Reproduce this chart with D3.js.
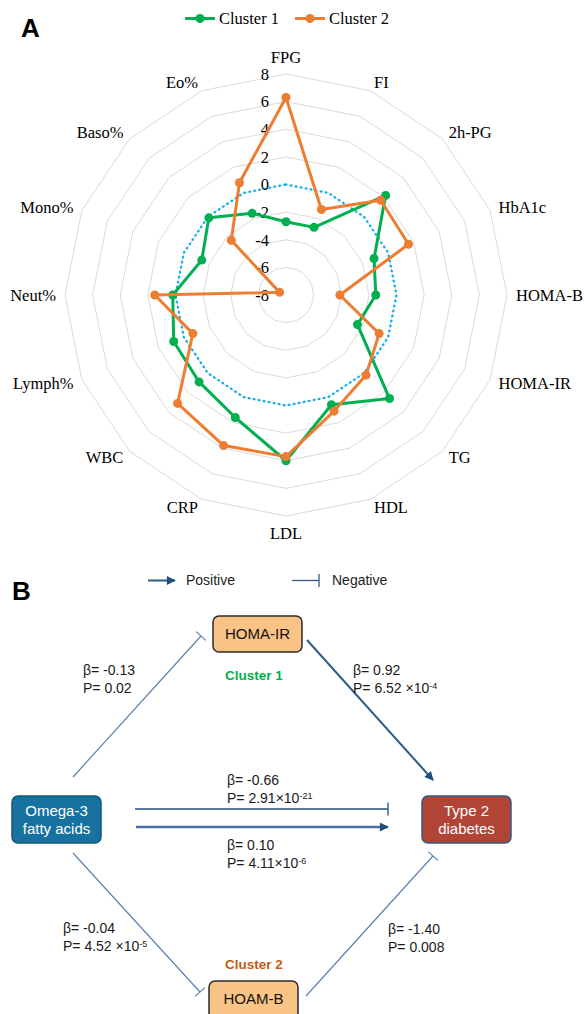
<!DOCTYPE html>
<html>
<head>
<meta charset="utf-8">
<script src="https://cdn.jsdelivr.net/npm/d3@7"></script>
<style>
  body { margin: 0; background: #fff; }
  svg { display: block; }
</style>
</head>
<body>
<div id="chart-area"></div>
<script>
// panel A data
var categories = ["FPG", "FI", "2h-PG", "HbA1c", "HOMA-B", "HOMA-IR", "TG", "HDL",
                  "LDL", "CRP", "WBC", "Lymph%", "Neut%", "Mono%", "Baso%", "Eo%"];
var cluster1 = [-2.7, -2.7, 2.2, -1.1, -1.5, -2.4, 2.6, 0.6, 4.0, 1.6, 0.9, 0.8, 0.2, -1.4, -0.1, -1.6];
var cluster2 = [6.3, -1.3, 1.7, 1.6, -4.1, -0.7, 0.2, 1.1, 3.7, 3.8, 3.1, -0.7, 1.5, -7.5, -2.4, 0.8];
var baseline = [0, 0, 0, 0, 0, 0, 0, 0, 0, 0, 0, 0, 0, 0, 0, 0];
var ticks = [-8, -6, -4, -2, 0, 2, 4, 6, 8];
var seriesNames = ["Cluster 1", "Cluster 2"];

// panel B data
var legendB = ["Positive", "Negative"];
var nodes = ["HOMA-IR", "Omega-3|fatty acids", "Type 2|diabetes", "HOAM-B"];
var clusterLabels = ["Cluster 1", "Cluster 2"];
var betas = ["-0.13", "0.92", "-0.66", "0.10", "-0.04", "-1.40"];
var pvals = [["0.02", ""], ["6.52 \u00d710", "-4"], ["2.91\u00d710", "-21"], ["4.11\u00d710", "-6"],
             ["4.52 \u00d710", "-5"], ["0.008", ""]];

var svg = d3.select("#chart-area").append("svg")
            .attr("width", 584)
            .attr("height", 1014);

var serif = "'Liberation Serif', 'Times New Roman', serif";
var sans = "'Liberation Sans', Arial, sans-serif";

// ---------- Panel A : radar ----------
var cx = 286, cy = 295;
var r = d3.scaleLinear().domain([-8, 8]).range([0, 221]);
var angle = d3.scaleLinear().domain([0, categories.length]).range([0, 2 * Math.PI]);

svg.append("text")
   .attr("x", 21).attr("y", 37)
   .attr("font-family", sans).attr("font-weight", "bold").attr("font-size", 26)
   .text("A");

var radar = svg.append("g").attr("transform", "translate(" + cx + "," + cy + ")");

var ringLine = d3.lineRadial()
                 .angle((d, i) => angle(i))
                 .radius(d => r(d))
                 .curve(d3.curveLinearClosed);

ticks.slice(1).forEach((t) => {
  radar.append("path")
       .attr("d", ringLine(categories.map(() => t)))
       .attr("fill", "none")
       .attr("stroke", "#d9d9d9")
       .attr("stroke-width", 1);
});

// dotted zero line
radar.append("path")
     .attr("d", ringLine(baseline))
     .attr("fill", "none")
     .attr("stroke", "#00b0f0")
     .attr("stroke-width", 2.5)
     .attr("stroke-linecap", "round")
     .attr("stroke-dasharray", "0.1,5");

// tick labels
radar.selectAll(".tick").data(ticks).enter()
     .append("text")
     .attr("x", -17)
     .attr("y", d => -r(d))
     .attr("dy", "0.35em")
     .attr("text-anchor", "end")
     .attr("font-family", serif).attr("font-size", 16.5)
     .text(d => d);

var colors = ["#00b050", "#ed7d31"];
[cluster1, cluster2].forEach((vals, k) => {
  radar.append("path")
       .attr("d", ringLine(vals))
       .attr("fill", "none")
       .attr("stroke", colors[k])
       .attr("stroke-width", 3)
       .attr("stroke-linejoin", "round");
  radar.selectAll(".pt" + k).data(vals).enter()
       .append("circle")
       .attr("cx", (d, i) => r(d) * Math.sin(angle(i)))
       .attr("cy", (d, i) => -r(d) * Math.cos(angle(i)))
       .attr("r", 4.5)
       .attr("fill", colors[k]);
});

// category labels
radar.selectAll(".cat").data(categories).enter()
     .append("text")
     .attr("x", (d, i) => 230 * Math.sin(angle(i)))
     .attr("y", (d, i) => {
        var c = Math.cos(angle(i));
        return -230 * c - (Math.abs(c) > 0.95 ? 8 * Math.sign(c) : 0);
     })
     .attr("dy", "0.35em")
     .attr("text-anchor", (d, i) => {
        var s = Math.sin(angle(i));
        return s > 0.1 ? "start" : (s < -0.1 ? "end" : "middle");
     })
     .attr("font-family", serif).attr("font-size", 16.5)
     .text(d => d);

// legend
var leg = svg.append("g");
seriesNames.forEach((name, k) => {
  var x0 = 185 + k * 110;
  leg.append("line")
     .attr("x1", x0).attr("x2", x0 + 30).attr("y1", 18.5).attr("y2", 18.5)
     .attr("stroke", colors[k]).attr("stroke-width", 3);
  leg.append("circle")
     .attr("cx", x0 + 15).attr("cy", 18.5).attr("r", 4.5).attr("fill", colors[k]);
  leg.append("text")
     .attr("x", x0 + 34).attr("y", 18.5).attr("dy", "0.35em")
     .attr("font-family", serif).attr("font-size", 16.5)
     .text(name);
});

// ---------- Panel B : mediation diagram ----------
svg.append("text")
   .attr("x", 12).attr("y", 600)
   .attr("font-family", sans).attr("font-weight", "bold").attr("font-size", 26)
   .text("B");

var defs = svg.append("defs");
defs.append("marker")
    .attr("id", "arrow")
    .attr("viewBox", "0 0 10 10")
    .attr("refX", 9).attr("refY", 5)
    .attr("markerWidth", 10).attr("markerHeight", 9)
    .attr("markerUnits", "userSpaceOnUse")
    .attr("orient", "auto")
    .append("path").attr("d", "M0,0L10,5L0,10z").attr("fill", "#1f4e79");

var posColor = "#2f5b88", negColor = "#5a82ad";

function posArrow(x1, y1, x2, y2, color, w) {
  svg.append("line")
     .attr("x1", x1).attr("y1", y1).attr("x2", x2).attr("y2", y2)
     .attr("stroke", color).attr("stroke-width", w)
     .attr("marker-end", "url(#arrow)");
}
function negArrow(x1, y1, x2, y2, color, w) {
  svg.append("line")
     .attr("x1", x1).attr("y1", y1).attr("x2", x2).attr("y2", y2)
     .attr("stroke", color).attr("stroke-width", w);
  var dx = x2 - x1, dy = y2 - y1, len = Math.sqrt(dx * dx + dy * dy);
  var px = -dy / len * 6.5, py = dx / len * 6.5;
  svg.append("line")
     .attr("x1", x2 - px).attr("y1", y2 - py).attr("x2", x2 + px).attr("y2", y2 + py)
     .attr("stroke", color).attr("stroke-width", w);
}

// legend B
posArrow(148, 580.5, 175, 580.5, posColor, 2);
svg.append("text").attr("x", 186).attr("y", 580.5).attr("dy", "0.35em")
   .attr("font-family", sans).attr("font-size", 14).attr("fill", "#222").text(legendB[0]);
negArrow(292, 580.5, 319, 580.5, "#2f5b88", 1.3);
svg.append("text").attr("x", 332).attr("y", 580.5).attr("dy", "0.35em")
   .attr("font-family", sans).attr("font-size", 14).attr("fill", "#222").text(legendB[1]);

// paths
negArrow(73, 777, 201, 636, negColor, 1.2);
posArrow(307, 640, 433, 780, posColor, 2);
negArrow(135, 809, 388, 809, "#1f4e79", 1.3);
posArrow(136, 827, 388, 827, "#4a719b", 2.5);
negArrow(73, 853, 200, 992, negColor, 1.2);
negArrow(306, 996, 433, 856, negColor, 1.2);

// boxes
var boxes = [
  { x: 213, y: 616, w: 89, h: 36, fill: "#f8c384", stroke: "#2b2b2b", text: "#111" },
  { x: 12, y: 796, w: 89, h: 47, fill: "#17729f", stroke: "#15577c", text: "#fff" },
  { x: 422, y: 796, w: 89, h: 47, fill: "#b04535", stroke: "#2f5b88", text: "#fff" },
  { x: 209, y: 981, w: 89, h: 38, fill: "#f8c384", stroke: "#2b2b2b", text: "#111" }
];
boxes.forEach((b, i) => {
  svg.append("rect")
     .attr("x", b.x).attr("y", b.y).attr("width", b.w).attr("height", b.h)
     .attr("rx", 6).attr("fill", b.fill)
     .attr("stroke", b.stroke).attr("stroke-width", 1.5);
  var lines = nodes[i].split("|");
  lines.forEach((ln, j) => {
    svg.append("text")
       .attr("x", b.x + b.w / 2)
       .attr("y", (i === 3 ? 999 : b.y + b.h / 2) + (j - (lines.length - 1) / 2) * 18)
       .attr("dy", "0.35em")
       .attr("text-anchor", "middle")
       .attr("font-family", sans).attr("font-size", 15)
       .attr("fill", b.text)
       .text(ln);
  });
});

// cluster labels
svg.append("text").attr("x", 254).attr("y", 675).attr("dy", "0.35em")
   .attr("text-anchor", "middle").attr("font-family", sans).attr("font-weight", "bold")
   .attr("font-size", 13.5).attr("fill", "#00b050").text(clusterLabels[0]);
svg.append("text").attr("x", 254).attr("y", 964).attr("dy", "0.35em")
   .attr("text-anchor", "middle").attr("font-family", sans).attr("font-weight", "bold")
   .attr("font-size", 13.5).attr("fill", "#c55a11").text(clusterLabels[1]);

// coefficient labels
var labelPos = [[83, 670], [353, 670], [227, 780], [227, 845], [63, 928], [388, 929]];
labelPos.forEach((p, i) => {
  var g = svg.append("g").attr("font-family", sans).attr("font-size", 14).attr("fill", "#1a1a1a");
  g.append("text").attr("x", p[0]).attr("y", p[1]).attr("dy", "0.35em")
   .text("\u03b2= " + betas[i]);
  var t = g.append("text").attr("x", p[0]).attr("y", p[1] + 18).attr("dy", "0.35em");
  t.append("tspan").text("P= " + pvals[i][0]);
  if (pvals[i][1]) {
    t.append("tspan").attr("font-size", 9).attr("dy", "-0.45em").text(pvals[i][1]);
  }
});
</script>
</body>
</html>
